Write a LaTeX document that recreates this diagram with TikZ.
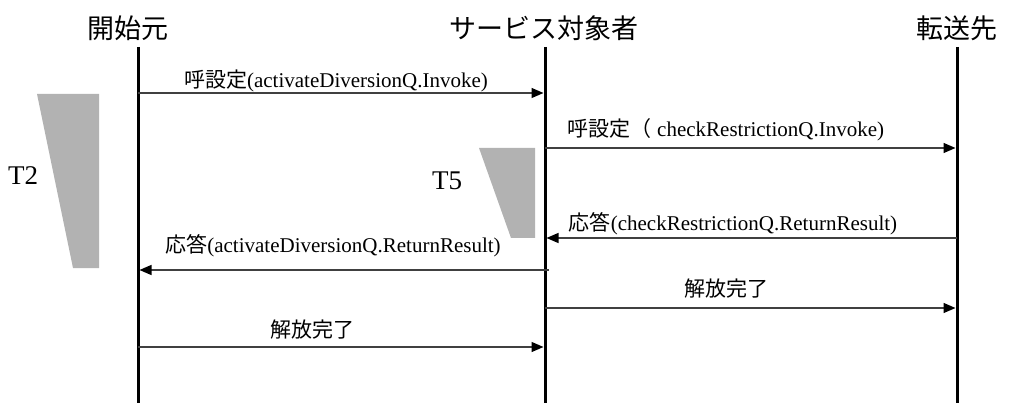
\documentclass[tikz,border=0pt]{standalone}
\usepackage{fontspec}
\setmainfont{Liberation Serif}
\newfontfamily\jp{Noto Sans CJK JP}
\usetikzlibrary{arrows.meta}
\begin{document}
\begin{tikzpicture}[x=1pt,y=-1pt,
  lifeline/.style={line width=3pt},
  msg/.style={line width=1.3pt, draw=black!75, shorten >=1.5pt,
    -{Triangle[length=12pt,width=10pt,fill=black,color=black]}},
  title/.style={font=\jp\fontsize{27}{27}\selectfont, inner sep=0, anchor=base},
  lbl/.style={font=\fontsize{21}{21}\selectfont, inner sep=0, anchor=base},
  timer/.style={fill=black!30, draw=none},
  tlbl/.style={font=\fontsize{27}{27}\selectfont, inner sep=0, anchor=base}]
\useasboundingbox (0,0) rectangle (1011,403);
% timers
\fill[timer] (37,94) -- (99,94) -- (99,268) -- (73,268) -- cycle;
\fill[timer] (479,148) -- (535,148) -- (535,238) -- (511,238) -- cycle;
\node[tlbl] (t2) at (23,185) {T2};
\node[tlbl] (t5) at (447,190) {T5};
% heads
\node[title] (A) at (128,39) {開始元};
\node[title] (B) at (544,39) {サービス対象者};
\node[title] (C) at (957,39) {転送先};
% lifelines
\coordinate (a0) at (138,47); \coordinate (aE) at (138,403);
\coordinate (b0) at (545,47); \coordinate (bE) at (545,403);
\coordinate (c0) at (957,47); \coordinate (cE) at (957,403);
\draw[lifeline] (a0) -- (aE);
\draw[lifeline] (b0) -- (bE);
\draw[lifeline] (c0) -- (cE);
% message points
\coordinate (a1) at (138,93);  \coordinate (b1) at (545,93);
\coordinate (b2) at (545,148); \coordinate (c2) at (957,148);
\coordinate (c3) at (957,238); \coordinate (b3) at (545,238);
\coordinate (b4) at (549,270); \coordinate (a4) at (138,270);
\coordinate (b5) at (545,308); \coordinate (c5) at (957,308);
\coordinate (a6) at (138,347); \coordinate (b6) at (545,347);
\draw[msg] (a1) -- (b1);
\draw[msg] (b2) -- (c2);
\draw[msg] (c3) -- (b3);
\draw[msg] (b4) -- (a4);
\draw[msg] (b5) -- (c5);
\draw[msg] (a6) -- (b6);
% labels
\node[lbl] (l1) at (336,88) {{\jp 呼設定}(activateDiversionQ.Invoke)};
\node[lbl] (l2) at (726,137) {{\jp 呼設定（} checkRestrictionQ.Invoke)};
\node[lbl] (l3) at (733,231) {{\jp 応答}(checkRestrictionQ.ReturnResult)};
\node[lbl] (l4) at (333,252) {{\jp 応答}(activateDiversionQ.ReturnResult)};
\node[lbl] (l5) at (726,296) {\jp 解放完了};
\node[lbl] (l6) at (312,337) {\jp 解放完了};
\end{tikzpicture}
\end{document}
